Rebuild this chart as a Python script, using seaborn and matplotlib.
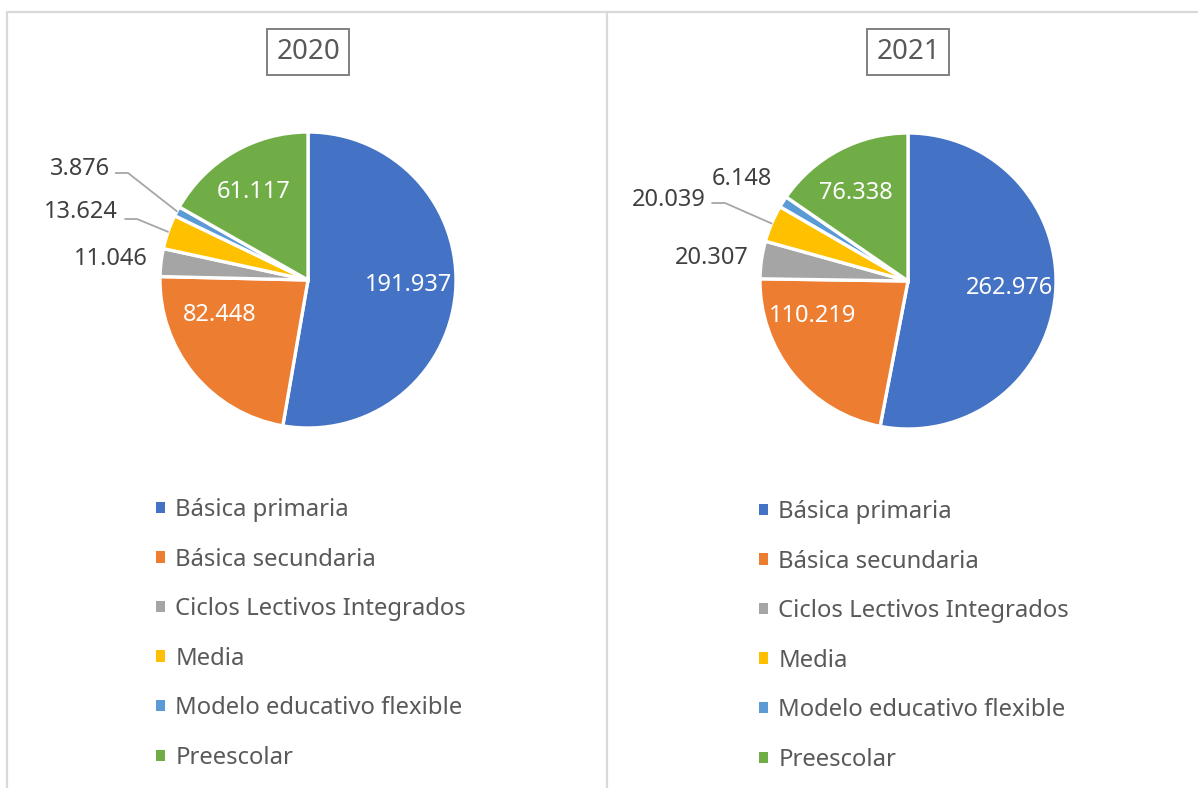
import numpy as np
import matplotlib
matplotlib.use("Agg")
import matplotlib.pyplot as plt
import matplotlib.patches as mpatches
from matplotlib.lines import Line2D
import seaborn as sns

# Datos: matrícula por nivel educativo
categorias = ["Básica primaria", "Básica secundaria", "Ciclos Lectivos Integrados",
              "Media", "Modelo educativo flexible", "Preescolar"]
anios = ["2020", "2021"]
valores_2020 = [191937, 82448, 11046, 13624, 3876, 61117]
valores_2021 = [262976, 110219, 20307, 20039, 6148, 76338]
etiquetas_2020 = ["191.937", "82.448", "11.046", "13.624", "3.876", "61.117"]
etiquetas_2021 = ["262.976", "110.219", "20.307", "20.039", "6.148", "76.338"]

colores = sns.color_palette(["#4472C4", "#ED7D31", "#A5A5A5", "#FFC000", "#5B9BD5", "#70AD47"])

sns.set_theme(style="white")
plt.rcParams["font.family"] = ["Noto Sans", "DejaVu Sans"]

W, H = 1198, 788
fig = plt.figure(figsize=(W / 100, H / 100), dpi=100)
fig.patch.set_facecolor("white")

# marco y separador
linea = dict(color="#d9d9d9", lw=1.6, transform=fig.transFigure)
fig.add_artist(Line2D([7 / W, 1], [1 - 12 / H, 1 - 12 / H], **linea))
fig.add_artist(Line2D([7 / W, 7 / W], [0, 1 - 12 / H], **linea))
fig.add_artist(Line2D([607 / W, 607 / W], [0, 1 - 12 / H], **linea))

# posición de etiquetas (en radios del pastel): (x, y, ha, dentro, linea_guia)
pos_2020 = [(0.676, -0.034, "center", True, None),
            (-0.595, -0.236, "center", True, None),
            (-1.081, 0.142, "right", False, None),
            (-1.284, 0.46, "right", False, (-1.236, -1.155, 0.412)),
            (-1.338, 0.75, "right", False, (-1.30, -1.216, 0.723)),
            (-0.365, 0.595, "center", True, None)]
pos_2021 = [(0.689, -0.047, "center", True, None),
            (-0.642, -0.236, "center", True, None),
            (-1.08, 0.155, "right", False, None),
            (-1.365, 0.547, "right", False, (-1.324, -1.236, 0.527)),
            (-0.92, 0.69, "right", False, None),
            (-0.351, 0.595, "center", True, None)]

paneles = [
    (anios[0], valores_2020, etiquetas_2020, pos_2020, 308, 280, 156, 512),
    (anios[1], valores_2021, etiquetas_2021, pos_2021, 908, 281, 759, 514),
]
R = 148

for anio, valores, etiquetas, posiciones, cx, cy, lx, ly in paneles:
    ax = fig.add_axes([(cx - R) / W, 1 - (cy + R) / H, 2 * R / W, 2 * R / H])
    wedges, _ = ax.pie(valores, colors=colores, startangle=90, counterclock=False,
                       radius=1, wedgeprops=dict(edgecolor="white", linewidth=2.4))
    ax.set_xlim(-1, 1)
    ax.set_ylim(-1, 1)
    ax.set_aspect("auto")
    ax.axis("off")

    total = sum(valores)
    acum = np.cumsum([0] + valores)
    for i, (txt, (x, y, ha, dentro, guia)) in enumerate(zip(etiquetas, posiciones)):
        color = "white" if dentro else "#404040"
        ax.text(x, y, txt, ha=ha, va="center", fontsize=17, color=color, clip_on=False)
        if guia is not None:
            x0, x1, yl = guia
            ang = np.deg2rad(90 - (acum[i] + valores[i] / 2) / total * 360)
            ax.plot([x0, x1, np.cos(ang)], [yl, yl, np.sin(ang)], color="#a6a6a6",
                    lw=1.3, clip_on=False)

    # título en recuadro
    fig.text(cx / W, 1 - 52 / H, anio, ha="center", va="center", fontsize=20,
             color="#595959",
             bbox=dict(boxstyle="square,pad=0.34", facecolor="white",
                       edgecolor="#7f7f7f", linewidth=1.4))

    manejadores = [mpatches.Patch(facecolor=c, edgecolor="none") for c in colores]
    fig.legend(manejadores, categorias, loc="upper left",
               bbox_to_anchor=(lx / W, 1 - (ly - 14) / H),
               bbox_transform=fig.transFigure, frameon=False, fontsize=17.2,
               labelcolor="#595959", handlelength=0.36, handleheight=0.36,
               handletextpad=0.45, labelspacing=1.07, borderpad=0, borderaxespad=0)

fig.savefig("out.png", dpi=100, facecolor="white")
